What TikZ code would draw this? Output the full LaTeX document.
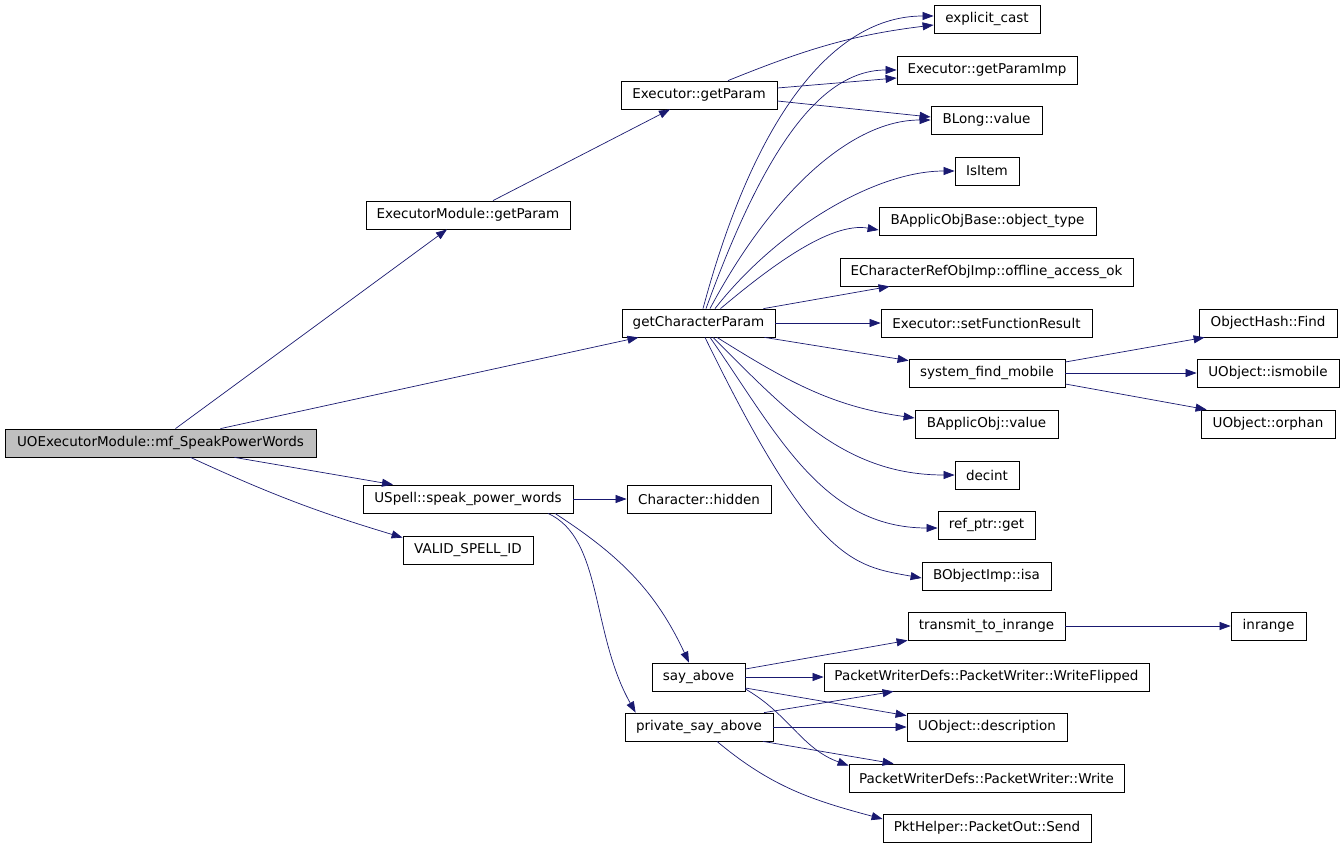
\documentclass[tikz,border=0pt]{standalone}
\usepackage{fontspec}
\setmainfont{DejaVu Sans}
\usetikzlibrary{arrows.meta}

\definecolor{edgeblue}{HTML}{191970}
\definecolor{rootgray}{HTML}{BFBFBF}

\begin{document}
\begin{tikzpicture}[x=1pt, y=1pt,
    fn/.style={draw, line width=0.8pt, minimum height=28pt, inner sep=0pt,
        font=\fontsize{13.5}{15}\selectfont},
    call/.style={draw=edgeblue, line width=0.7pt,
        -{Triangle[length=11pt, width=8pt]}}]
    \useasboundingbox (0,0) rectangle (1344,-848);

    % Root
    \node[fn, minimum width=311pt, fill=rootgray] (mf) at (160.5,-443) {UOExecutorModule::mf\_SpeakPowerWords};

    % Second column
    \node[fn, minimum width=204pt] (emgp) at (468,-215) {ExecutorModule::getParam};
    \node[fn, minimum width=210pt] (spw) at (468,-499) {USpell::speak\_power\_words};
    \node[fn, minimum width=130pt] (validid) at (468,-550) {VALID\_SPELL\_ID};

    % Third column
    \node[fn, minimum width=156pt] (egp) at (699,-95) {Executor::getParam};
    \node[fn, minimum width=153pt] (gcp) at (698.5,-323) {getCharacterParam};
    \node[fn, minimum width=144pt] (hidden) at (699,-499) {Character::hidden};
    \node[fn, minimum width=93pt] (sayabove) at (698.5,-677) {say\_above};
    \node[fn, minimum width=148pt] (psa) at (699,-727) {private\_say\_above};

    % Fourth column
    \node[fn, minimum width=106pt] (ecast) at (987,-19) {explicit\_cast};
    \node[fn, minimum width=180pt] (gpi) at (987,-70) {Executor::getParamImp};
    \node[fn, minimum width=111pt] (blong) at (986.5,-120) {BLong::value};
    \node[fn, minimum width=64pt] (isitem) at (987,-171) {IsItem};
    \node[fn, minimum width=217pt] (objtype) at (987.5,-221) {BApplicObjBase::object\_type};
    \node[fn, minimum width=293pt] (offline) at (986.5,-272) {ECharacterRefObjImp::offline\_access\_ok};
    \node[fn, minimum width=211pt] (setres) at (986.5,-323) {Executor::setFunctionResult};
    \node[fn, minimum width=156pt] (sfm) at (987,-373) {system\_find\_mobile};
    \node[fn, minimum width=143pt] (bapval) at (986.5,-424) {BApplicObj::value};
    \node[fn, minimum width=64pt] (decint) at (987,-475) {decint};
    \node[fn, minimum width=97pt] (refget) at (986.5,-525) {ref\_ptr::get};
    \node[fn, minimum width=129pt] (isa) at (986.5,-576) {BObjectImp::isa};
    \node[fn, minimum width=157pt] (tti) at (986.5,-626) {transmit\_to\_inrange};
    \node[fn, minimum width=325pt] (wflip) at (986.5,-677) {PacketWriterDefs::PacketWriter::WriteFlipped};
    \node[fn, minimum width=160pt] (udesc) at (987,-727) {UObject::description};
    \node[fn, minimum width=275pt] (pwrite) at (986.5,-778) {PacketWriterDefs::PacketWriter::Write};
    \node[fn, minimum width=208pt] (send) at (987,-828) {PktHelper::PacketOut::Send};

    % Fifth column
    \node[fn, minimum width=138pt] (ohfind) at (1268,-323) {ObjectHash::Find};
    \node[fn, minimum width=142pt] (ismobile) at (1268,-373) {UObject::ismobile};
    \node[fn, minimum width=134pt] (orphan) at (1268,-424) {UObject::orphan};
    \node[fn, minimum width=75pt] (inrange) at (1268.5,-626) {inrange};

    % Calls from the root
    \draw[call] ([xshift=15]mf.north) -- ([xshift=-21]emgp.south);
    \draw[call] ([xshift=60]mf.north) -- ([xshift=-60]gcp.south);
    \draw[call] ([xshift=74]mf.south) -- ([xshift=-75]spw.north);
    \draw[call] ([xshift=30]mf.south) to[bend right=4] ([yshift=-2]validid.north west);

    % Calls from the getParam chain
    \draw[call] ([xshift=25]emgp.north) -- ([xshift=-29]egp.south);
    \draw[call] ([xshift=29]egp.north) to[out=22, in=187] ([yshift=-6]ecast.west);
    \draw[call] ([yshift=7]egp.east) -- ([yshift=-8]gpi.west);
    \draw[call] ([yshift=-6]egp.east) -- ([yshift=3]blong.west);

    % Calls from getCharacterParam
    \draw[call] ([xshift=4.5]gcp.north) .. controls +(75:200) and +(180:100) .. ([yshift=3]ecast.west);
    \draw[call] ([xshift=7.5]gcp.north) .. controls +(70:160) and +(180:80) .. (gpi.west);
    \draw[call] ([xshift=11.5]gcp.north) .. controls +(62:130) and +(180:80) .. (blong.west);
    \draw[call] ([xshift=16.5]gcp.north) .. controls +(52:100) and +(180:80) .. (isitem.west);
    \draw[call] ([xshift=22]gcp.north) .. controls +(40:60) and +(170:50) .. ([yshift=-9]objtype.west);
    \draw[call] ([xshift=65]gcp.north) -- ([xshift=50]offline.south west);
    \draw[call] (gcp.east) -- (setres.west);
    \draw[call] ([xshift=66]gcp.south) -- ([yshift=-2]sfm.north west);
    \draw[call] ([xshift=18.5]gcp.south) to[out=-32, in=172] ([yshift=6]bapval.west);
    \draw[call] ([xshift=14.5]gcp.south) to[out=-45, in=180] (decint.west);
    \draw[call] ([xshift=11.5]gcp.south) to[out=-55, in=180] ([yshift=-3]refget.west);
    \draw[call] ([xshift=6.5]gcp.south) .. controls +(-64:250) and +(170:70) .. ([yshift=-2]isa.west);

    % Calls from system_find_mobile
    \draw[call] ([yshift=11]sfm.east) -- ([xshift=6]ohfind.south west);
    \draw[call] (sfm.east) -- (ismobile.west);
    \draw[call] ([yshift=-11]sfm.east) -- ([xshift=6]orphan.north west);

    % Calls from speak_power_words
    \draw[call] (spw.east) -- (hidden.west);
    \draw[call] ([xshift=87]spw.south) to[out=-33, in=115] ([xshift=-9.5]sayabove.north);
    \draw[call] ([xshift=80]spw.south) .. controls +(55,-25) and +(-45,80) .. ([xshift=11]psa.north west);

    % Calls from say_above and private_say_above
    \draw[call] ([yshift=8]sayabove.east) -- (tti.south west);
    \draw[call] (tti.east) -- (inrange.west);
    \draw[call] (sayabove.east) -- (wflip.west);
    \draw[call] ([yshift=-11]sayabove.east) -- ([yshift=-3]udesc.north west);
    \draw[call] ([yshift=-12]sayabove.east) to[out=-30, in=160] ([yshift=-2]pwrite.north west);
    \draw[call] ([xshift=65]psa.north) -- ([xshift=70]wflip.south west);
    \draw[call] (psa.east) -- (udesc.west);
    \draw[call] ([xshift=64]psa.south) -- ([xshift=45]pwrite.north west);
    \draw[call] ([xshift=18]psa.south) to[out=-40, in=165] ([yshift=9]send.west);

\end{tikzpicture}
\end{document}
